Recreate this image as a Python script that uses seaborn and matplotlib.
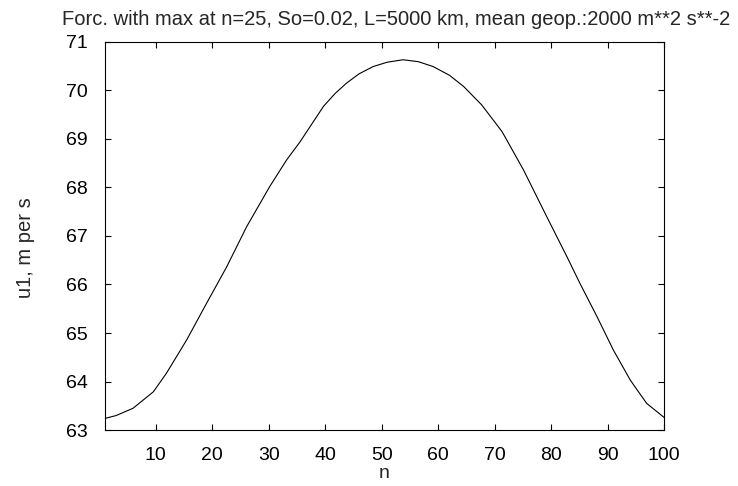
import matplotlib
matplotlib.use("Agg")
import matplotlib.pyplot as plt
import seaborn as sns
import pandas as pd

# values
n_values = [1.0, 3.0, 6.0, 9.6, 11.9, 15.5, 19.0, 22.6, 26.1, 30.2, 33.2, 35.5, 39.7, 41.8,
            43.8, 46.0, 48.5, 51.0, 53.8, 56.5, 59.1, 62.0, 64.5, 67.7, 71.3, 75.1, 79.2,
            82.8, 85.1, 88.1, 91.0, 94.0, 96.9, 100.0]
u1_values = [63.24, 63.30, 63.45, 63.79, 64.17, 64.86, 65.61, 66.37, 67.19, 68.02, 68.57,
             68.93, 69.67, 69.94, 70.15, 70.34, 70.49, 70.58, 70.63, 70.59, 70.49, 70.31,
             70.08, 69.70, 69.15, 68.36, 67.40, 66.57, 66.02, 65.34, 64.65, 64.03, 63.55,
             63.26]
x_ticks = [10, 20, 30, 40, 50, 60, 70, 80, 90, 100]
y_ticks = [63, 64, 65, 66, 67, 68, 69, 70, 71]

title = "Forc. with max at n=25, So=0.02, L=5000 km, mean geop.:2000 m**2 s**-2"

sns.set_theme(style="white")
plt.rcParams['font.family'] = ['Liberation Sans', 'DejaVu Sans']

df = pd.DataFrame({"n": n_values, "u1": u1_values})

fig = plt.figure(figsize=(7.38, 4.86), dpi=100)
ax = fig.add_axes([0.142, 0.115, 0.758, 0.799])
sns.lineplot(data=df, x="n", y="u1", ax=ax, color="black", linewidth=0.8)

ax.set_xlim(1, 100)
ax.set_ylim(63, 71)
ax.set_xticks(x_ticks)
ax.set_yticks(y_ticks)
ax.tick_params(axis="both", direction="in", length=4, width=0.8, colors="black",
               labelsize=14, top=True, right=True, bottom=True, left=True)
ax.tick_params(axis="x", pad=12)
ax.tick_params(axis="y", pad=12.5)
for s in ax.spines.values():
    s.set_visible(True)
    s.set_color("black")
    s.set_linewidth(0.8)

ax.set_xlabel("n", fontsize=14, labelpad=1)
ax.set_ylabel("u1, m per s", fontsize=14.5)
ax.yaxis.set_label_coords(-0.125, 0.47)
ax.set_title(title, fontsize=14.5, pad=12, x=0.52)

fig.savefig("out.png", dpi=100, facecolor="white")
